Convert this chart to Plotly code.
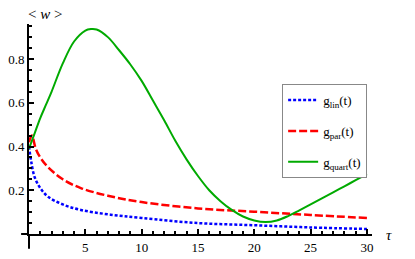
import plotly.graph_objects as go

# data
t_lin = [0, 0.2, 0.5, 1, 1.7, 3, 4.6, 7, 10, 15, 20, 25, 30]
g_lin = [0.40, 0.33, 0.26, 0.21, 0.17, 0.135, 0.11, 0.09, 0.073, 0.05, 0.04, 0.03, 0.023]

t_par = [0, 0.25, 0.6, 1, 1.7, 3, 4.6, 7, 10, 15, 20, 25, 30]
g_par = [0.42, 0.45, 0.39, 0.35, 0.305, 0.25, 0.21, 0.175, 0.146, 0.117, 0.102, 0.087, 0.073]

t_quart = [0, 0.5, 1, 1.5, 2, 3, 4, 5, 5.5, 6, 7, 8, 9, 10, 11, 12, 13, 14, 15,
           16, 17, 18, 19, 20, 21, 22, 23, 24, 25, 26, 27, 28, 29, 30]
g_quart = [0.39, 0.46, 0.53, 0.59, 0.65, 0.78, 0.88, 0.93, 0.937, 0.935, 0.90, 0.84, 0.775,
           0.70, 0.61, 0.52, 0.425, 0.34, 0.265, 0.20, 0.15, 0.11, 0.08, 0.062, 0.055,
           0.062, 0.082, 0.108, 0.135, 0.163, 0.19, 0.218, 0.246, 0.274]

x_ticks = [5, 10, 15, 20, 25, 30]
y_ticks = [0.2, 0.4, 0.6, 0.8]

names = ["g<sub>lin</sub>(t)", "g<sub>par</sub>(t)", "g<sub>quart</sub>(t)"]

FONT = "'Liberation Serif', 'Times New Roman', serif"

fig = go.Figure()
fig.add_trace(go.Scatter(x=t_lin, y=g_lin, mode="lines", name=names[0], legendgroup="a",
                         line=dict(color="#0000ff", width=2.5, dash="3px,2px", shape="spline")))
fig.add_trace(go.Scatter(x=t_par, y=g_par, mode="lines", name=names[1], legendgroup="b",
                         line=dict(color="#ff0000", width=2.5, dash="8px,3px", shape="spline")))
fig.add_trace(go.Scatter(x=t_quart, y=g_quart, mode="lines", name=names[2], legendgroup="c",
                         line=dict(color="#00aa00", width=2, shape="spline")))

fig.update_layout(
    width=415, height=259,
    margin=dict(l=29, r=43, t=24, b=25, autoexpand=False),
    paper_bgcolor="white", plot_bgcolor="white",
    font=dict(family=FONT, size=13, color="black"),
    showlegend=True,
    legend=dict(x=0.738, y=0.714, xanchor="left", yanchor="top",
                bgcolor="white", bordercolor="#888888", borderwidth=1,
                font=dict(family=FONT, size=13), tracegroupgap=11,
                itemwidth=30),
    xaxis=dict(range=[0, 30.45], showgrid=False, zeroline=False, automargin=False,
               showline=True, linecolor="black", linewidth=2,
               tickmode="array", tickvals=x_ticks, ticktext=[str(v) for v in x_ticks],
               ticks="inside", ticklen=5, tickwidth=1.5, tickcolor="black",
               minor=dict(dtick=1, ticks="inside", ticklen=3, tickcolor="black", tickwidth=1.5),
               tickfont=dict(family=FONT, size=13), fixedrange=True),
    yaxis=dict(range=[0, 0.96], showgrid=False, zeroline=False, automargin=False,
               showline=True, linecolor="black", linewidth=2,
               tickmode="array", tickvals=y_ticks, ticktext=[f"{v:.1f}" for v in y_ticks],
               ticks="inside", ticklen=5, tickwidth=1.5, tickcolor="black",
               minor=dict(dtick=0.05, ticks="inside", ticklen=3, tickcolor="black", tickwidth=1.5),
               tickfont=dict(family=FONT, size=13), fixedrange=True),
    annotations=[
        dict(text="&lt; <i>w</i> &gt;", xref="paper", yref="paper", x=-0.01, y=1.0,
             xanchor="left", yanchor="bottom", showarrow=False,
             font=dict(family=FONT, size=15)),
        dict(text="<i>τ</i>", xref="paper", yref="paper", x=1.035, y=-0.005,
             xanchor="left", yanchor="middle", showarrow=False,
             font=dict(family=FONT, size=15)),
    ],
    shapes=[
        dict(type="line", xref="paper", yref="paper", x0=-0.023, x1=0.0, y0=0, y1=0,
             line=dict(color="black", width=2)),
        dict(type="line", xref="paper", yref="paper", x0=0, x1=0, y0=-0.07, y1=0,
             line=dict(color="black", width=2)),
    ],
)

fig.write_html("out.html", config={"displayModeBar": False},
               post_script="document.body.style.margin='0';document.body.style.overflow='hidden';")
